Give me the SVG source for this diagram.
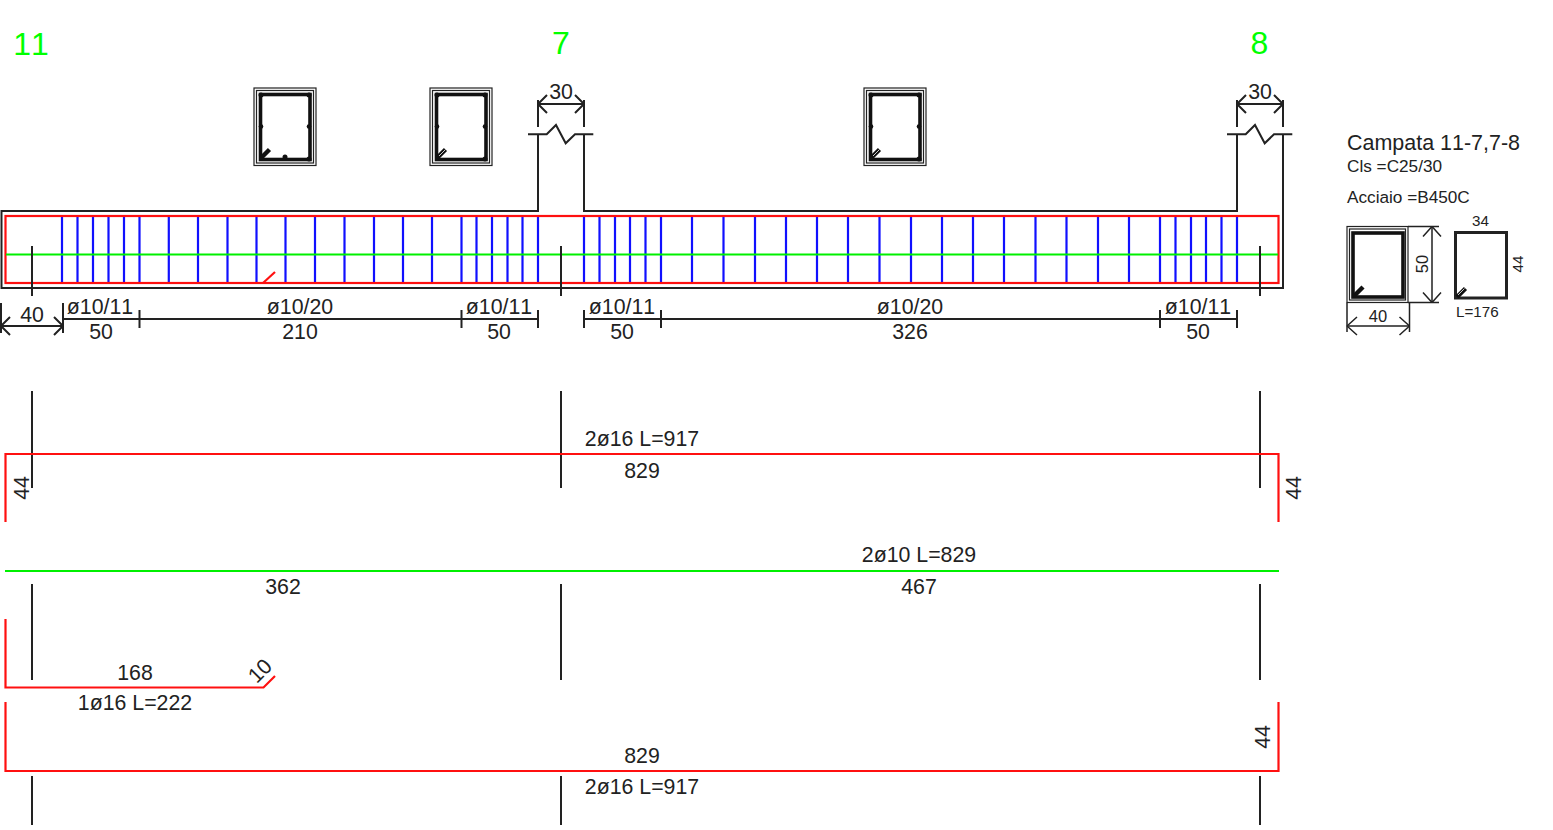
<svg xmlns="http://www.w3.org/2000/svg" width="1553" height="830" viewBox="0 0 1553 830">
<style>
text{font-family:"Liberation Sans",Arial,sans-serif;fill:#222;font-size:21.300px;font-kerning:none}
.m{text-anchor:middle}
.g{fill:#00ff00;font-size:32px}
.k{fill:none;stroke:#222;stroke-width:2}
.t{fill:none;stroke:#222;stroke-width:1.200}
.s{fill:none;stroke:#111;stroke-width:3.600}
.r{fill:none;stroke:#ff1010;stroke-width:2.200}
.v{fill:none;stroke:#00f000;stroke-width:2.200}
.b{fill:none;stroke:#1010ff;stroke-width:2.200}
.h{fill:none;stroke:#111;stroke-width:4.500}
.w{fill:none;stroke:#ccc;stroke-width:1}
.f{font-size:17.200px}
.x{font-size:15.200px}
</style>
<defs>
<g id="sec">
<rect class="t" x="254" y="88" width="62" height="77.500"/>
<rect class="t" x="256.500" y="90.500" width="57" height="72.500"/>
<rect class="s" x="260.500" y="94.500" width="49.500" height="65"/>
<path class="h" d="M261 158l8.500-8.500"/>
<g fill="#111"><circle cx="261" cy="95" r="2.500"/><circle cx="309" cy="95" r="2.500"/><circle cx="309" cy="159" r="2.500"/><circle cx="261" cy="126.500" r="2.300"/><circle cx="309" cy="126.500" r="2.300"/></g>
</g>
<path id="dimL" d="M0 0l9-9M0 0l9 9" fill="none" stroke="#222" stroke-width="2"/>
<path id="dimR" d="M0 0l-9-9M0 0l-9 9" fill="none" stroke="#222" stroke-width="2"/>
</defs>
<g id="grid-labels">
<text class="g m" x="31" y="54.500">11</text>
<text class="g m" x="561" y="53.500">7</text>
<text class="g m" x="1259.500" y="53.500">8</text>
</g>
<g id="section-1"><use href="#sec"/><circle cx="285" cy="157" r="2.500" fill="#111"/></g>
<g id="section-2"><use href="#sec" x="176"/><path class="w" d="M439 156l6.500-6.500"/></g>
<g id="section-3"><use href="#sec" x="610"/><path class="w" d="M873 156l6.500-6.500"/></g>
<g id="beam">
<path class="k" d="M538 134V211H1.500V288H1283V134M584 134V211H1237V134"/>
<path class="k" d="M538 127V100M584 127V100M1237 127V100M1283 127V100"/>
<path class="k" d="M528 134.300H546.700L556 125L565.700 143.300L575 134.300H593.300M1227 134.300H1245.700L1255 125L1264.700 143.300L1274 134.300H1292.300"/>
<path class="k" d="M538 104H584M1237 104H1283"/>
<use href="#dimL" x="538" y="104"/><use href="#dimR" x="584" y="104"/><use href="#dimL" x="1237" y="104"/><use href="#dimR" x="1283" y="104"/>
<text class="m" x="561" y="99">30</text>
<text class="m" x="1260" y="99">30</text>
<path class="b" d="M62 216V283M77.500 216V283M93 216V283M108.500 216V283M124 216V283M139.500 216V283M168.800 216V283M198 216V283M227.500 216V283M256.500 216V283M285.500 216V283M315 216V283M344.500 216V283M374 216V283M403 216V283M432 216V283M461.500 216V283M476.500 216V283M492 216V283M507.500 216V283M522.500 216V283M538 216V283M584 216V283M599.500 216V283M615 216V283M630 216V283M645.500 216V283M661 216V283M692 216V283M723.500 216V283M755 216V283M786 216V283M817 216V283M848 216V283M879.500 216V283M911 216V283M942 216V283M973 216V283M1004 216V283M1035.500 216V283M1066.500 216V283M1098 216V283M1129 216V283M1160 216V283M1175.500 216V283M1191 216V283M1206 216V283M1221.500 216V283M1237 216V283"/>
<rect class="r" x="5.500" y="216" width="1273" height="67"/>
<path class="r" d="M263 283L275 272"/>
<path class="v" d="M6 254.500H1278"/>
</g>
<g id="connectors">
<path class="k" d="M32 246V296M561 246V296M1260 246V296"/>
<path class="k" d="M32 391V488M561 391V488M1260 391V488M32 584V680M561 584V680M1260 584V680M32 776V825M561 776V825M1260 776V825"/>
<path class="k" d="M1 303V333M63 303V333M1 326H63M63 319H538M584 319H1237M139.500 310V328M461.500 310V328M538 310V328M584 310V328M661 310V328M1160 310V328M1237 310V328"/>
<use href="#dimL" x="1" y="326"/><use href="#dimR" x="63" y="326"/>
</g>
<g id="dimensions">
<text class="m" x="32" y="322">40</text>
<text class="m" x="100" y="313.500">ø10/11</text><text class="m" x="101" y="338.500">50</text>
<text class="m" x="300" y="313.500">ø10/20</text><text class="m" x="300" y="338.500">210</text>
<text class="m" x="499" y="313.500">ø10/11</text><text class="m" x="499" y="338.500">50</text>
<text class="m" x="622" y="313.500">ø10/11</text><text class="m" x="622" y="338.500">50</text>
<text class="m" x="910" y="313.500">ø10/20</text><text class="m" x="910" y="338.500">326</text>
<text class="m" x="1198" y="313.500">ø10/11</text><text class="m" x="1198" y="338.500">50</text>
</g>
<g id="bar-top">
<path class="r" d="M5.500 522V454H1278.500V522"/>
<text class="m" x="642" y="445.500">2ø16 L=917</text>
<text class="m" x="642" y="477.500">829</text>
<text class="m" transform="translate(29 488) rotate(-90)">44</text>
<text class="m" transform="translate(1301 488) rotate(-90)">44</text>
</g>
<g id="bar-middle">
<path class="v" d="M5 571H1279"/>
<text class="m" x="919" y="562">2ø10 L=829</text>
<text class="m" x="283" y="593.500">362</text>
<text class="m" x="919" y="593.500">467</text>
</g>
<g id="bar-short">
<path class="r" d="M5.500 619V687.500H263.500L275 676"/>
<text class="m" x="135" y="679.500">168</text>
<text class="m" x="135" y="709.500">1ø16 L=222</text>
<text class="m" transform="translate(265 676) rotate(-45)">10</text>
</g>
<g id="bar-bottom">
<path class="r" d="M5.500 702V771H1278.500V702"/>
<text class="m" x="642" y="762.500">829</text>
<text class="m" x="642" y="793.500">2ø16 L=917</text>
<text class="m" transform="translate(1270 737) rotate(-90)">44</text>
</g>
<g id="legend">
<text x="1347" y="149.500" style="font-size:21.300px" textLength="173" lengthAdjust="spacingAndGlyphs">Campata 11-7,7-8</text>
<text class="f" x="1347" y="172">Cls =C25/30</text>
<text class="f" x="1347" y="203">Acciaio =B450C</text>
<rect class="t" x="1347" y="226.500" width="61" height="76"/>
<rect class="t" x="1349.500" y="229" width="56" height="71"/>
<rect class="s" x="1353" y="233" width="50" height="64"/>
<path class="h" d="M1354 296l9-9"/>
<path class="t" d="M1408 226.500H1439M1408 302.500H1439M1432 226.500V302.500M1347 302.500V332M1409.500 302.500V332M1347 326H1409.500" style="stroke-width:1.500"/>
<path class="t" d="M1432 226.500l-9 10M1432 226.500l9 10M1432 302.500l-9-10M1432 302.500l9-10M1347 326l10-9M1347 326l10 9M1409.500 326l-10-9M1409.500 326l-10 9" style="stroke-width:1.500"/>
<text class="m" style="font-size:16.500px" x="1378" y="322">40</text>
<text class="m" style="font-size:16.500px" transform="translate(1428 264) rotate(-90)">50</text>
<rect class="k" x="1455.500" y="232.500" width="51" height="65.500" style="stroke-width:3"/>
<path class="h" d="M1457 297l8.500-8.500"/>
<path class="w" d="M1458 295l6.500-6.500"/>
<text class="m x" x="1480.500" y="225.500">34</text>
<text class="m x" transform="translate(1523 264) rotate(-90)">44</text>
<text class="x" x="1456" y="316.500">L=176</text>
</g>
</svg>
